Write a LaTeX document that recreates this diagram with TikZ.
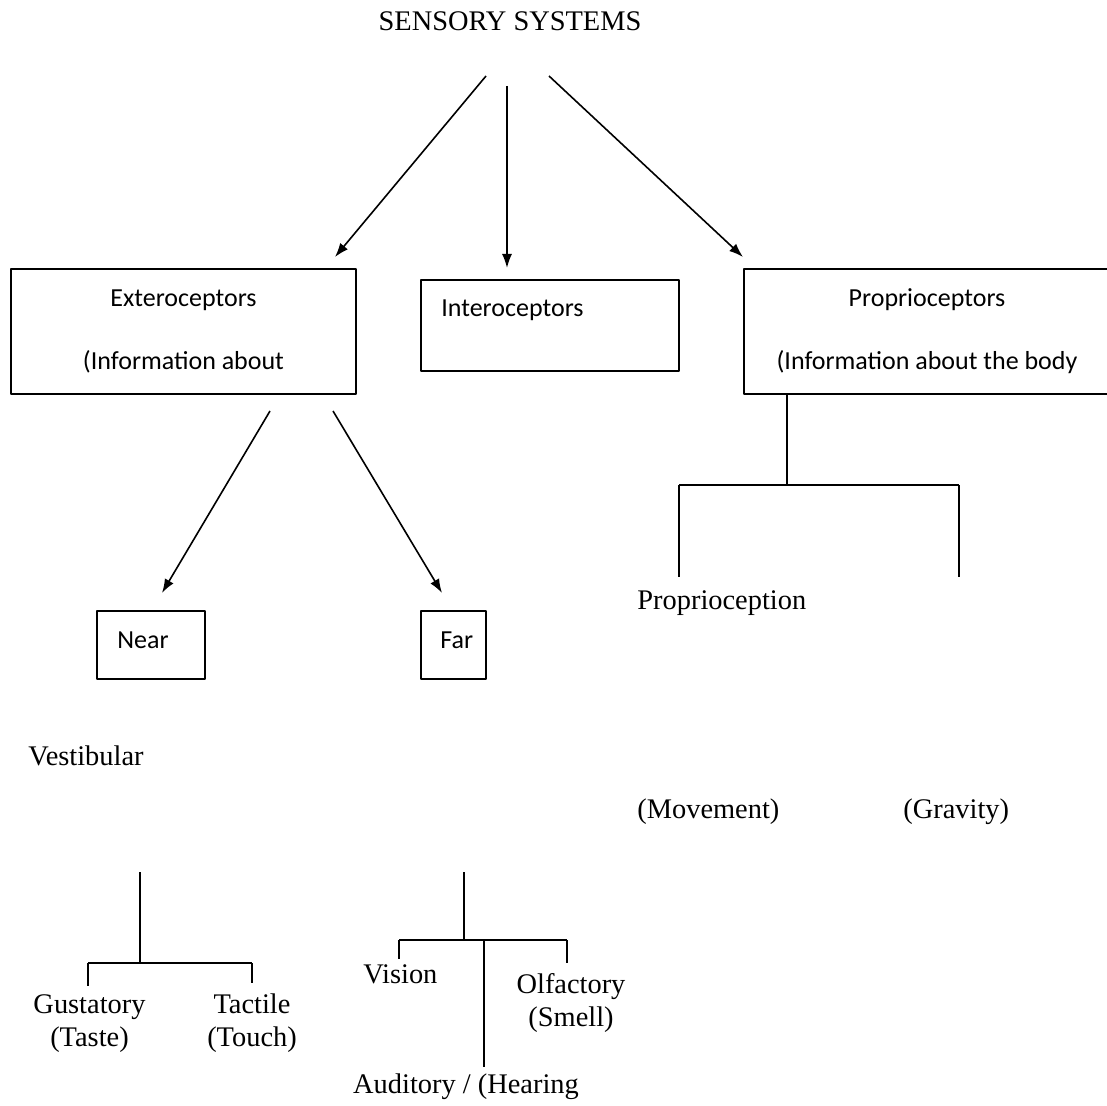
\documentclass[tikz,border=0pt]{standalone}
\usepackage{fontspec}
\setmainfont{Liberation Serif}
\newfontfamily\calfont{Carlito}
\usetikzlibrary{arrows.meta}

\begin{document}
\begin{tikzpicture}[x=0.5pt,y=-0.5pt,>={Latex[length=7pt,width=5pt]},line join=bevel,
  box/.style={draw,line width=1pt,inner sep=0pt},
  serif/.style={font=\fontsize{14.2}{17}\selectfont,inner sep=0pt},
  sans/.style={font=\calfont\fontsize{13}{15.6}\selectfont,inner sep=0pt},
  arr/.style={->,line width=0.8pt},
  stem/.style={line width=1pt},
  twig/.style={line width=0.6pt}]
  \useasboundingbox (0,0) rectangle (1107,1106);
%%
  % Node: title
  \node[serif] (title) at (510,21) {SENSORY SYSTEMS};
  % Node: extero
  \node[box,minimum width=172.5pt,minimum height=62.5pt] (extero) at (183.5,331.5) {};
  \node[sans,anchor=base] (extero1) at (183.5,307) {Exteroceptors};
  \node[sans,anchor=base] (extero2) at (183.5,370) {(Information about};
  % Node: intero
  \node[box,minimum width=129pt,minimum height=45.5pt] (intero) at (550,325.5) {};
  \node[sans,anchor=base west] (intero1) at (441,317) {Interoceptors};
  % Node: proprio
  \node[box,minimum width=184pt,minimum height=62.5pt] (proprio) at (928,331.5) {};
  \node[sans,anchor=base] (proprio1) at (927,307) {Proprioceptors};
  \node[sans,anchor=base] (proprio2) at (927,370) {(Information about the body};
  % Node: near
  \node[box,minimum width=54pt,minimum height=34pt] (near) at (151,645) {};
  \node[sans,anchor=base west] (near1) at (117,648) {Near};
  % Node: far
  \node[box,minimum width=32.5pt,minimum height=34pt] (far) at (453.5,645) {};
  \node[sans,anchor=base west] (far1) at (440,648) {Far};
  % Node: leaves
  \node[serif,anchor=base west] (propception) at (637,609) {Proprioception};
  \node[serif,anchor=base west] (movement) at (637,818) {(Movement)};
  \node[serif,anchor=base west] (gravity) at (903,818) {(Gravity)};
  \node[serif,anchor=base west] (vestib) at (28,765) {Vestibular};
  \node[serif,anchor=base] (gust) at (89.5,1013) {Gustatory};
  \node[serif,anchor=base] (taste) at (89.5,1046) {(Taste)};
  \node[serif,anchor=base] (tact) at (252,1013) {Tactile};
  \node[serif,anchor=base] (touch) at (252,1046) {(Touch)};
  \node[serif,anchor=base west] (vision) at (363,983) {Vision};
  \node[serif,anchor=base] (olf) at (571,993) {Olfactory};
  \node[serif,anchor=base] (smell) at (571,1026) {(Smell)};
  \node[serif,anchor=base] (audit) at (466,1093) {Auditory / (Hearing};
%%
  % Coordinates: arrow ends
  \coordinate (t1) at (486,76);
  \coordinate (t2) at (507,86);
  \coordinate (t3) at (549,76);
  \coordinate (h1) at (335,257);
  \coordinate (h2) at (507,268);
  \coordinate (h3) at (743,257);
  \coordinate (e1) at (270,411);
  \coordinate (e2) at (333,411);
  \coordinate (n1) at (162,593);
  \coordinate (f1) at (442,593);
  % Edge: title -> extero, intero, proprio
  \draw[arr] (t1) -- (h1);
  \draw[arr] (t2) -- (h2);
  \draw[arr] (t3) -- (h3);
  % Edge: extero -> near, far
  \draw[arr] (e1) -- (n1);
  \draw[arr] (e2) -- (f1);
  % Edge: proprio tree
  \coordinate (pj) at (787,485);
  \coordinate (pl) at (679,485);
  \coordinate (pr) at (959,485);
  \draw[stem] (proprio.south -| pj) -- (pj);
  \draw[stem] (pl) -- (pr);
  \draw[stem] (pl) -- ++(0,92);
  \draw[stem] (pr) -- ++(0,92);
  % Edge: near tree
  \coordinate (ns) at (140,872);
  \coordinate (nj) at (140,963);
  \coordinate (nl) at (88,963);
  \coordinate (nr) at (252,963);
  \draw[stem] (ns) -- (nj);
  \draw[twig] (nl) -- (nr);
  \draw[twig] (nl) -- ++(0,23);
  \draw[twig] (nr) -- ++(0,20);
  % Edge: far tree
  \coordinate (fs) at (464,872);
  \coordinate (fj) at (464,940);
  \coordinate (fl) at (399,940);
  \coordinate (fr) at (567,940);
  \coordinate (fm) at (484,940);
  \draw[stem] (fs) -- (fj);
  \draw[twig] (fl) -- (fr);
  \draw[twig] (fl) -- ++(0,19);
  \draw[twig] (fr) -- ++(0,23);
  \draw[twig] (fm) -- ++(0,127);
%
\end{tikzpicture}
\end{document}
